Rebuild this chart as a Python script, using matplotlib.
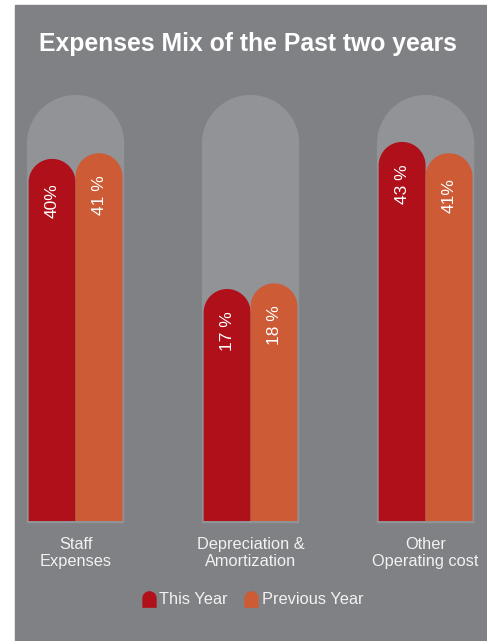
import numpy as np
import matplotlib
matplotlib.use('Agg')
import matplotlib.pyplot as plt
from matplotlib.patches import Rectangle, Polygon
from matplotlib.path import Path
from matplotlib.lines import Line2D

categories = ['Staff\nExpenses', 'Depreciation &\nAmortization', 'Other\nOperating cost']
this_year = [40, 17, 43]
previous_year = [41, 18, 41]
this_labels = ['40%', '17 %', '43 %']
previous_labels = ['41 %', '18 %', '41%']
series_names = ['This Year', 'Previous Year']

RED = '#b0101a'
ORANGE = '#cc5b36'
PANEL = '#808185'
TUBE = '#929397'
TEXT = '#f2f2f2'

BASE = -24      # bars start below zero, like the original artwork
TUBE_TOP = 51.3

plt.rcParams['font.family'] = ['Liberation Sans', 'DejaVu Sans']

fig = plt.figure(figsize=(4.87, 6.41), dpi=100)
fig.patch.set_facecolor('white')
fig.add_artist(Rectangle((15 / 487, 0), 1, 636 / 641, transform=fig.transFigure,
                         color=PANEL, zorder=0))

ax = fig.add_axes([15 / 487, 120 / 641, 472 / 487, 430 / 641])
ax.set_xlim(-0.346, 2.351)
ax.set_ylim(BASE, 52)
ax.axis('off')
ax.patch.set_alpha(0)

# pixels per data unit, so the caps come out round
p0, p1 = ax.transData.transform([(0, 0), (1, 1)])
px_x = p1[0] - p0[0]
px_y = p1[1] - p0[1]


def arch(ax, xc, top, width, bottom, color, z):
    ry = (width / 2) * px_x / px_y
    t = np.linspace(np.pi, 0, 60)
    xs = xc + width / 2 * np.cos(t)
    ys = top - ry + ry * np.sin(t)
    pts = [(xc - width / 2, bottom)] + list(zip(xs, ys)) + [(xc + width / 2, bottom)]
    ax.add_patch(Polygon(pts, closed=True, facecolor=color, edgecolor='none',
                         zorder=z, clip_on=False))


w = 0.268
x = np.arange(len(categories))
for i in x:
    arch(ax, i, TUBE_TOP, 0.556, BASE - 0.4, TUBE, 1)
    arch(ax, i - w / 2, this_year[i], w, BASE, RED, 2)
    arch(ax, i + w / 2, previous_year[i], w, BASE, ORANGE, 2)
    for xc, v, lab in [(i - w / 2, this_year[i], this_labels[i]),
                       (i + w / 2, previous_year[i], previous_labels[i])]:
        ax.text(xc, v - 7.4, lab, rotation=90, ha='center', va='center',
                color='white', fontsize=12.5,
                family=['Liberation Sans Narrow', 'Liberation Sans'], zorder=3)
    ax.text(i, BASE - 5.7, categories[i], ha='center', va='center',
            color=TEXT, fontsize=11.8, linespacing=1.15)

fig.text(0.509, 0.931, 'Expenses Mix of the Past two years', ha='center',
         va='center', color='white', fontsize=17.8, fontweight='bold')

# legend marker shaped like the bars
t = np.linspace(np.pi, 0, 30)
verts = [(-0.43, -0.5)] + list(zip(0.43 * np.cos(t), 0.07 + 0.43 * np.sin(t))) + [(0.43, -0.5), (-0.43, -0.5)]
codes = [Path.MOVETO] + [Path.LINETO] * (len(verts) - 2) + [Path.CLOSEPOLY]
arch_marker = Path(verts, codes)
handles = [Line2D([], [], marker=arch_marker, linestyle='none', markersize=12,
                  markerfacecolor=c, markeredgecolor='none') for c in (RED, ORANGE)]
leg = fig.legend(handles, series_names, loc='center', bbox_to_anchor=(0.517, 0.064),
                 ncol=2, frameon=False, fontsize=11.8, handletextpad=0.15,
                 columnspacing=0.9, handlelength=1.0)
for txt in leg.get_texts():
    txt.set_color(TEXT)

fig.savefig('out.png', dpi=100)
